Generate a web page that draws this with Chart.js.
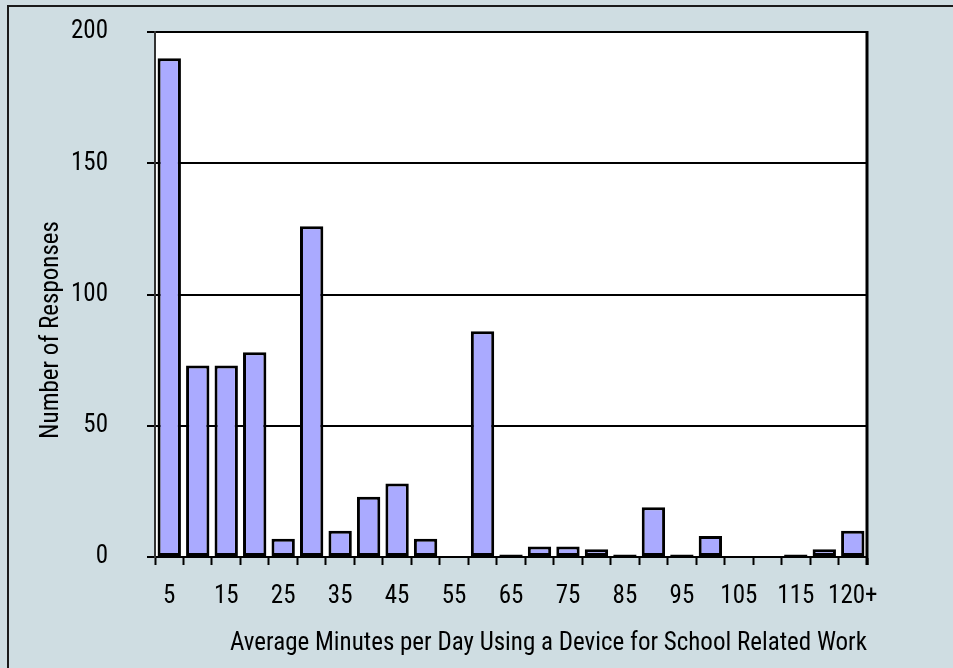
<!DOCTYPE html>
<html>
<head>
<meta charset="utf-8">
<script src="https://cdn.jsdelivr.net/npm/chart.js@4/dist/chart.umd.min.js"></script>
<style>
  html, body { margin: 0; padding: 0; background: #cfdde2; }
  #wrap { width: 953px; height: 668px; position: relative; }
</style>
</head>
<body>
<div id="wrap"><canvas id="c" width="953" height="668"></canvas></div>
<script>
// ---- data ----
const categories = ['5','10','15','20','25','30','35','40','45','50','55','60','65','70','75','80','85','90','95','100','105','110','115','120','120+'];
const responses  = [190, 73, 73, 78, 7, 126, 10, 23, 28, 7, 0, 86, 1, 4, 4, 3, 1, 19, 1, 8, 0, 0, 1, 3, 10];
const yTickValues = [0, 50, 100, 150, 200];
const xTitle = 'Average Minutes per Day Using a Device for School Related Work';
const yTitle = 'Number of Responses';

const FONT = '"Roboto Condensed", "Liberation Sans", Arial, sans-serif';
const FSIZE = 25;

const framePlugin = {
  id: 'frame',
  beforeDraw(chart) {
    const { ctx, chartArea: a, width, height } = chart;
    ctx.save();
    ctx.fillStyle = '#cfdde2';
    ctx.fillRect(0, 0, width, height);
    ctx.strokeStyle = '#1a1a1a';
    ctx.lineWidth = 2;
    ctx.beginPath();
    ctx.moveTo(8, height + 5);
    ctx.lineTo(8, 6);
    ctx.lineTo(width + 5, 6);
    ctx.stroke();
    ctx.fillStyle = '#ffffff';
    ctx.fillRect(a.left, a.top, a.right - a.left, a.bottom - a.top);
    ctx.restore();
  },
  afterDraw(chart) {
    const { ctx, chartArea: a } = chart;
    ctx.save();
    ctx.strokeStyle = '#000';
    ctx.lineWidth = 3;
    ctx.beginPath();
    ctx.moveTo(a.right, a.top - 1);
    ctx.lineTo(a.right, a.bottom + 8);
    ctx.stroke();
    // y-axis title
    ctx.translate(a.left - 103, a.bottom - 227);
    ctx.rotate(-Math.PI / 2);
    ctx.fillStyle = '#000';
    ctx.font = FSIZE + 'px ' + FONT;
    ctx.textAlign = 'center';
    ctx.textBaseline = 'middle';
    ctx.fillText(yTitle, 0, 0);
    ctx.restore();
  }
};

new Chart(document.getElementById('c'), {
  type: 'bar',
  data: {
    labels: categories,
    datasets: [{
      data: responses,
      backgroundColor: '#aaaaff',
      borderColor: '#000000',
      borderWidth: 3,
      borderSkipped: false,
      barPercentage: 0.82,
      categoryPercentage: 1.0
    }]
  },
  options: {
    responsive: false,
    animation: false,
    devicePixelRatio: 1,
    layout: { autoPadding: false, padding: { left: 32, right: 86, top: 32, bottom: 9 } },
    plugins: { legend: { display: false }, tooltip: { enabled: false } },
    scales: {
      x: {
        type: 'category',
        offset: true,
        grid: { display: true, drawOnChartArea: false, drawTicks: true, tickLength: 8, tickWidth: 2, tickColor: '#000', offset: true },
        border: { display: true, color: '#000', width: 2 },
        ticks: {
          autoSkip: false, maxRotation: 0, minRotation: 0, padding: 17,
          color: '#000', font: { family: FONT, size: FSIZE },
          callback: (v, i) => (i % 2 === 0 ? categories[i] : '')
        },
        title: { display: true, text: xTitle, align: 'end', color: '#000', font: { family: FONT, size: FSIZE }, padding: { top: 0, bottom: 0 } }
      },
      y: {
        min: yTickValues[0],
        max: yTickValues[yTickValues.length - 1],
        afterBuildTicks: (scale) => { scale.ticks = yTickValues.map(v => ({ value: v })); },
        afterFit: (scale) => { scale.paddingTop = 0; scale.paddingBottom = 0; },
        grid: { color: '#000', lineWidth: 2, drawTicks: true, tickLength: 8, tickWidth: 2, tickColor: '#000' },
        border: { display: true, color: '#333', width: 2 },
        ticks: { padding: 39, color: '#000', font: { family: FONT, size: FSIZE } }
      }
    }
  },
  plugins: [framePlugin]
});
</script>
</body>
</html>
